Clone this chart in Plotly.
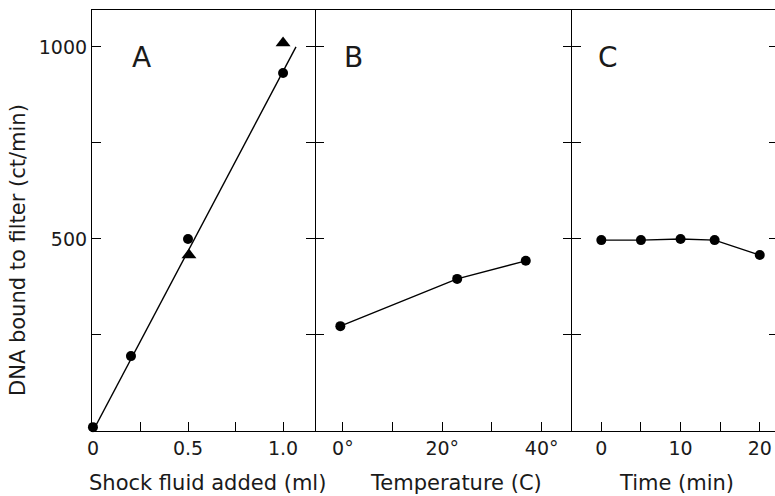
import plotly.graph_objects as go

# ---------------- data ----------------
# Panel A: shock fluid added (ml)
a_circle_x = [0.0, 0.2, 0.5, 1.0]
a_circle_y = [10, 195, 500, 932]
a_tri_x = [0.505, 1.0]
a_tri_y = [458, 1010]
a_fit_x = [0.0, 1.068]
a_fit_y = [0, 1000]

# Panel B: temperature (C)
b_x = [-0.5, 23, 36.8]
b_y = [273, 396, 443]

# Panel C: time (min)
c_x = [0, 5, 10, 14.3, 20]
c_y = [497, 497, 500, 497, 458]

y_tickvals = [250, 500, 750, 1000]
y_ticktext = ["", "500", "", "1000"]
a_tickvals = [0, 0.25, 0.5, 0.75, 1.0]
a_ticktext = ["0", "", "0.5", "", "1.0"]
b_tickvals = [0, 10, 20, 30, 40]
b_ticktext = ["0°", "", "20°", "", "40°"]
c_tickvals = [0, 5, 10, 15, 20]
c_ticktext = ["0", "", "10", "", "20"]

panel_labels = ["A", "B", "C"]
x_titles = ["Shock fluid added (ml)", "Temperature (C)", "Time (min)"]
y_title = "DNA bound to filter (ct/min)"

# ---------------- figure ----------------
W, H = 778, 496
L, R, T = 92, 0, 10
B = H - 431
pw = W - L - R
ph = H - T - B
LW = 1.2
div1, div2 = 315, 572


def px_x(px):
    return (px - L) / pw


def px_y(py):
    return 1 - (py - T) / ph


dA = [0, px_x(div1)]
dB = [px_x(div1), px_x(div2)]
dC = [px_x(div2), 1]

FONT = "DejaVu Sans"
TXT = "#1a1a1a"

fig = go.Figure()
line_style = dict(color="black", width=1.4)
mk = dict(color="black", size=10, symbol="circle")

fig.add_trace(go.Scatter(x=a_fit_x, y=a_fit_y, mode="lines", line=line_style,
                         xaxis="x", yaxis="y", showlegend=False))
fig.add_trace(go.Scatter(x=a_circle_x, y=a_circle_y, mode="markers", marker=mk,
                         xaxis="x", yaxis="y", showlegend=False, cliponaxis=False))
fig.add_trace(go.Scatter(x=a_tri_x, y=a_tri_y, mode="markers",
                         marker=dict(color="black", size=13, symbol="triangle-up"),
                         xaxis="x", yaxis="y", showlegend=False, cliponaxis=False))
fig.add_trace(go.Scatter(x=b_x, y=b_y, mode="lines+markers", line=line_style, marker=mk,
                         xaxis="x2", yaxis="y2", showlegend=False))
fig.add_trace(go.Scatter(x=c_x, y=c_y, mode="lines+markers", line=line_style, marker=mk,
                         xaxis="x3", yaxis="y3", showlegend=False))

tickfont = dict(family=FONT, size=19, color=TXT)
common_x = dict(showline=True, linecolor="black", linewidth=LW, mirror=True,
                ticks="inside", ticklen=9, tickwidth=1.3, tickcolor="black",
                showgrid=False, zeroline=False, tickfont=tickfont)
common_y = dict(showline=True, linecolor="black", linewidth=LW, mirror="ticks",
                ticks="inside", ticklen=9, tickwidth=1.3, tickcolor="black",
                showgrid=False, zeroline=False, range=[0, 1096],
                tickvals=y_tickvals, ticktext=y_ticktext, tickfont=tickfont)

fig.update_layout(
    width=W, height=H,
    margin=dict(l=L, r=R, t=T, b=B),
    paper_bgcolor="white", plot_bgcolor="white",
    xaxis=dict(common_x, domain=dA, range=[-0.005, 1.168],
               tickvals=a_tickvals, ticktext=a_ticktext, anchor="y"),
    xaxis2=dict(common_x, domain=dB, range=[-5.6, 46.1],
                tickvals=b_tickvals, ticktext=b_ticktext, anchor="y2"),
    xaxis3=dict(common_x, domain=dC, range=[-3.7, 22.3],
                tickvals=c_tickvals, ticktext=c_ticktext, anchor="y3"),
    yaxis=dict(common_y, anchor="x"),
    yaxis2=dict(common_y, anchor="x2", matches="y", showticklabels=False, showline=False),
    yaxis3=dict(common_y, anchor="x3", matches="y", showticklabels=False),
)

# panel letters
letter_x = [141, 353, 608]
for lab, px in zip(panel_labels, letter_x):
    fig.add_annotation(text=lab, x=px_x(px), y=px_y(57), xref="paper", yref="paper",
                       xanchor="center", yanchor="middle", showarrow=False,
                       font=dict(family=FONT, size=28, color=TXT))

# x axis titles
title_x = [207, 456, 676]
for t, px in zip(x_titles, title_x):
    fig.add_annotation(text=t, x=px_x(px), y=px_y(483),
                       xref="paper", yref="paper", xanchor="center", yanchor="middle",
                       showarrow=False, font=dict(family=FONT, size=21, color=TXT))

# y axis title
fig.add_annotation(text=y_title, x=px_x(18), y=px_y(250),
                   xref="paper", yref="paper", xanchor="center", yanchor="middle",
                   textangle=-90, showarrow=False,
                   font=dict(family=FONT, size=21, color=TXT))

fig.write_html(
    "out.html",
    config={"displayModeBar": False},
    post_script="document.body.style.margin='0';document.body.style.overflow='hidden';",
)
